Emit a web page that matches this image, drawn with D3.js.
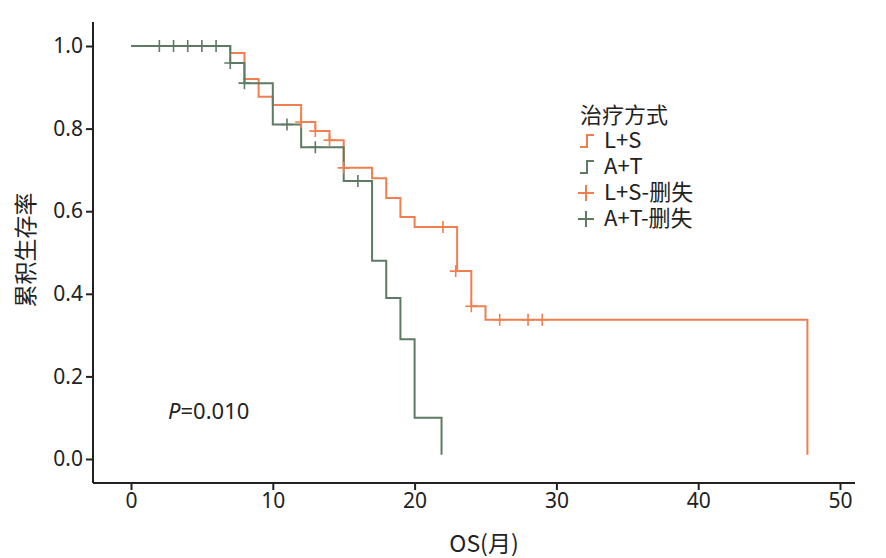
<!DOCTYPE html>
<html><head><meta charset="utf-8">
<script src="https://cdn.jsdelivr.net/npm/d3@7"></script>
<style>body{margin:0;background:#fff}text{font-family:"Noto Sans CJK SC","Noto Sans",sans-serif;fill:#222}</style>
</head><body>
<script>
// 生存曲线: [时间, 生存率]
var lsSteps = [[0,1],[7,0.983],[8,0.92],[9,0.877],[10,0.857],[12,0.816],[13,0.794],[14,0.772],[15,0.705],[17,0.68],[18,0.632],[19,0.586],[20,0.562],[23,0.455],[24,0.37],[25,0.337],[47.7,0.337],[47.7,0.01]];
var atSteps = [[0,1],[7,0.959],[8,0.91],[10,0.81],[12,0.755],[15,0.673],[17,0.48],[18,0.39],[19,0.29],[20,0.1],[21.9,0.1],[21.9,0.01]];
var lsCens = [[12,0.816],[13,0.794],[14,0.772],[15,0.705],[22,0.562],[22.9,0.455],[24,0.37],[26,0.337],[28,0.337],[29,0.337]];
var atCens = [[2,1],[3,1],[4,1],[5,1],[6,1],[7,0.959],[8,0.91],[11,0.81],[13,0.755],[16,0.673]];
var xTicks = [0,10,20,30,40,50];
var yTicks = [0,0.2,0.4,0.6,0.8,1.0];
var orange = "#F07E4F", green = "#5E7A63";

var svg = d3.select("body").append("svg").attr("width",886).attr("height",558);
var x = d3.scaleLinear().domain([0,50]).range([131,840]);
var y = d3.scaleLinear().domain([0,1]).range([459,46]);

svg.append("g").attr("transform","translate(0,483)")
  .call(d3.axisBottom(x).tickValues(xTicks).tickSize(7).tickSizeOuter(0))
  .call(g=>g.select(".domain").attr("d","M93,0H855"));
svg.append("g").attr("transform","translate(93,0)")
  .call(d3.axisLeft(y).tickValues(yTicks).tickFormat(d3.format(".1f")).tickSize(7).tickSizeOuter(0))
  .call(g=>g.select(".domain").attr("d","M0,22V483"));
svg.selectAll(".tick text").style("font-size","21px").style("font-family","'Noto Sans',sans-serif");
svg.selectAll(".domain,.tick line").attr("stroke","#222").attr("stroke-width",2);

var line = d3.line().x(d=>x(d[0])).y(d=>y(d[1])).curve(d3.curveStepAfter);
function curve(data,c){ svg.append("path").datum(data).attr("d",line).attr("fill","none").attr("stroke",c).attr("stroke-width",2); }
function cens(data,c){ svg.append("g").selectAll("path").data(data).join("path")
  .attr("d",d=>"M"+(x(d[0])-6)+","+y(d[1])+"h12M"+x(d[0])+","+(y(d[1])-6)+"v12")
  .attr("stroke",c).attr("stroke-width",1.6); }
curve(lsSteps,orange); curve(atSteps,green);
cens(lsCens,orange); cens(atCens,green);

svg.append("text").attr("x",484).attr("y",552).attr("text-anchor","middle").style("font-size","23px").text("OS(月)");
svg.append("text").attr("transform","translate(34,250) rotate(-90)").attr("text-anchor","middle").style("font-size","23px").text("累积生存率");
var pt = svg.append("text").attr("x",168).attr("y",419).style("font-size","22px").style("font-family","'Noto Sans',sans-serif");
pt.append("tspan").attr("font-style","italic").text("P"); pt.append("tspan").text("=0.010");

var leg = svg.append("g");
leg.append("text").attr("x",580).attr("y",123).style("font-size","22px").text("治疗方式");
var items = [["L+S",orange,0],["A+T",green,0],["L+S-删失",orange,1],["A+T-删失",green,1]];
items.forEach(function(it,i){
  var yy = 148+i*26;
  if(it[2]) leg.append("path").attr("d","M578,"+(yy-7)+"h16M586,"+(yy-15)+"v16").attr("stroke",it[1]).attr("stroke-width",2);
  else leg.append("path").attr("d","M580,"+(yy-1)+"h7v-12h7").attr("fill","none").attr("stroke",it[1]).attr("stroke-width",2);
  leg.append("text").attr("x",604).attr("y",yy).style("font-size","22px").text(it[0]);
});
</script>
</body></html>
